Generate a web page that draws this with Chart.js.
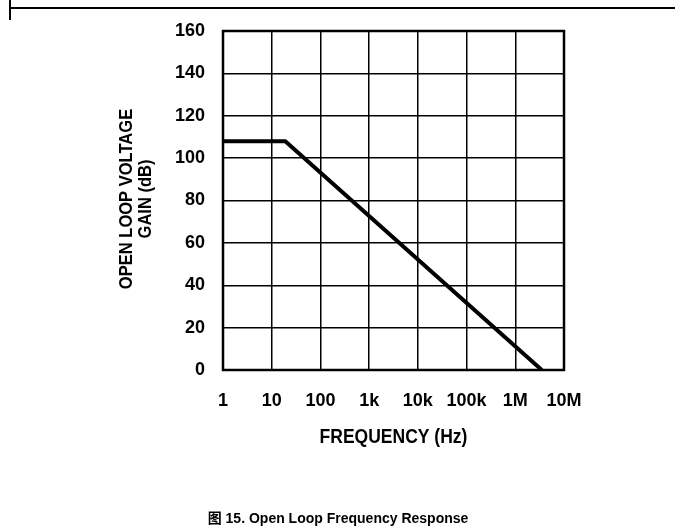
<!DOCTYPE html>
<html>
<head>
<meta charset="utf-8">
<script src="https://cdn.jsdelivr.net/npm/chart.js@4"></script>
<style>
  html, body { margin: 0; padding: 0; background: #fff; }
  #wrap { width: 675px; height: 529px; position: relative; }
</style>
</head>
<body>
<div id="wrap"><canvas id="gainChart" width="675" height="529"></canvas></div>
<script>
// open loop gain, straight-line approximation
const freqHz = [1, 19, 3.5e6];
const gainDb = [108, 108, 0];

// axis ticks
const xTickValues = [1, 10, 100, 1e3, 1e4, 1e5, 1e6, 1e7];
const xTickLabels = ["1", "10", "100", "1k", "10k", "100k", "1M", "10M"];
const yTickValues = [0, 20, 40, 60, 80, 100, 120, 140, 160];

const sans = "'Liberation Sans', Arial, sans-serif";

// draw text squeezed horizontally, to mimic the condensed face of the original
function condensedText(ctx, text, x, y, squeeze) {
    ctx.save();
    ctx.translate(x, y);
    ctx.scale(squeeze, 1);
    ctx.fillText(text, 0, 0);
    ctx.restore();
}

// titles + the page rule at the top
const textPlugin = {
    id: "texts",
    afterDraw(chart) {
        const ctx = chart.ctx;
        const area = chart.chartArea;
        ctx.save();
        ctx.fillStyle = "#000";
        ctx.strokeStyle = "#000";

        // top rule
        ctx.lineWidth = 2;
        ctx.beginPath();
        ctx.moveTo(10, 8);
        ctx.lineTo(675, 8);
        ctx.moveTo(10, 0);
        ctx.lineTo(10, 20);
        ctx.stroke();

        ctx.textAlign = "center";
        ctx.textBaseline = "middle";

        // y title, two lines, rotated
        ctx.font = "bold 19px " + sans;
        ctx.save();
        ctx.translate(127, 199);
        ctx.rotate(-Math.PI / 2);
        condensedText(ctx, "OPEN LOOP VOLTAGE", 0, 0, 0.87);
        condensedText(ctx, "GAIN (dB)", 0, 19, 0.87);
        ctx.restore();

        // x title
        ctx.font = "bold 20px " + sans;
        condensedText(ctx, "FREQUENCY (Hz)", (area.left + area.right) / 2, 437, 0.875);

        // caption
        ctx.font = "bold 14px 'Liberation Sans', Arial, 'Noto Sans CJK SC', sans-serif";
        ctx.textBaseline = "alphabetic";
        ctx.fillText("图 15. Open Loop Frequency Response", 338, 523);
        ctx.restore();
    }
};

// heavy frame round the plot
const framePlugin = {
    id: "frame",
    afterDatasetsDraw(chart) {
        const a = chart.chartArea;
        const ctx = chart.ctx;
        ctx.save();
        ctx.strokeStyle = "#000";
        ctx.lineWidth = 2.5;
        ctx.strokeRect(a.left, a.top, a.right - a.left, a.bottom - a.top);
        ctx.restore();
    }
};

document.addEventListener("DOMContentLoaded", () => {
    const ctx = document.getElementById("gainChart").getContext("2d");
    new Chart(ctx, {
        type: "line",
        data: {
            datasets: [{
                data: freqHz.map((f, i) => ({ x: f, y: gainDb[i] })),
                borderColor: "#000",
                borderWidth: 4,
                pointRadius: 0,
                fill: false,
                tension: 0
            }]
        },
        options: {
            responsive: false,
            animation: false,
            layout: { padding: { left: 0, top: 31, right: 111, bottom: 0 } },
            plugins: {
                legend: { display: false },
                tooltip: { enabled: false }
            },
            scales: {
                x: {
                    type: "logarithmic",
                    min: 1,
                    max: 1e7,
                    afterBuildTicks: (scale) => {
                        scale.ticks = xTickValues.map(v => ({ value: v }));
                    },
                    afterFit: (scale) => { scale.height = 159; },
                    ticks: {
                        autoSkip: false,
                        maxRotation: 0,
                        padding: 20,
                        color: "#000",
                        font: { family: sans, size: 18, weight: "bold" },
                        callback: (v) => {
                            const i = xTickValues.indexOf(v);
                            return i >= 0 ? xTickLabels[i] : "";
                        }
                    },
                    grid: { color: "#000", lineWidth: 1.5, drawTicks: false },
                    border: { display: false }
                },
                y: {
                    min: 0,
                    max: 160,
                    afterBuildTicks: (scale) => {
                        scale.ticks = yTickValues.map(v => ({ value: v }));
                    },
                    afterFit: (scale) => { scale.width = 223; },
                    ticks: {
                        padding: 18,
                        color: "#000",
                        font: { family: sans, size: 18, weight: "bold" }
                    },
                    grid: { color: "#000", lineWidth: 1.5, drawTicks: false },
                    border: { display: false }
                }
            }
        },
        plugins: [textPlugin, framePlugin]
    });
});
</script>
</body>
</html>
